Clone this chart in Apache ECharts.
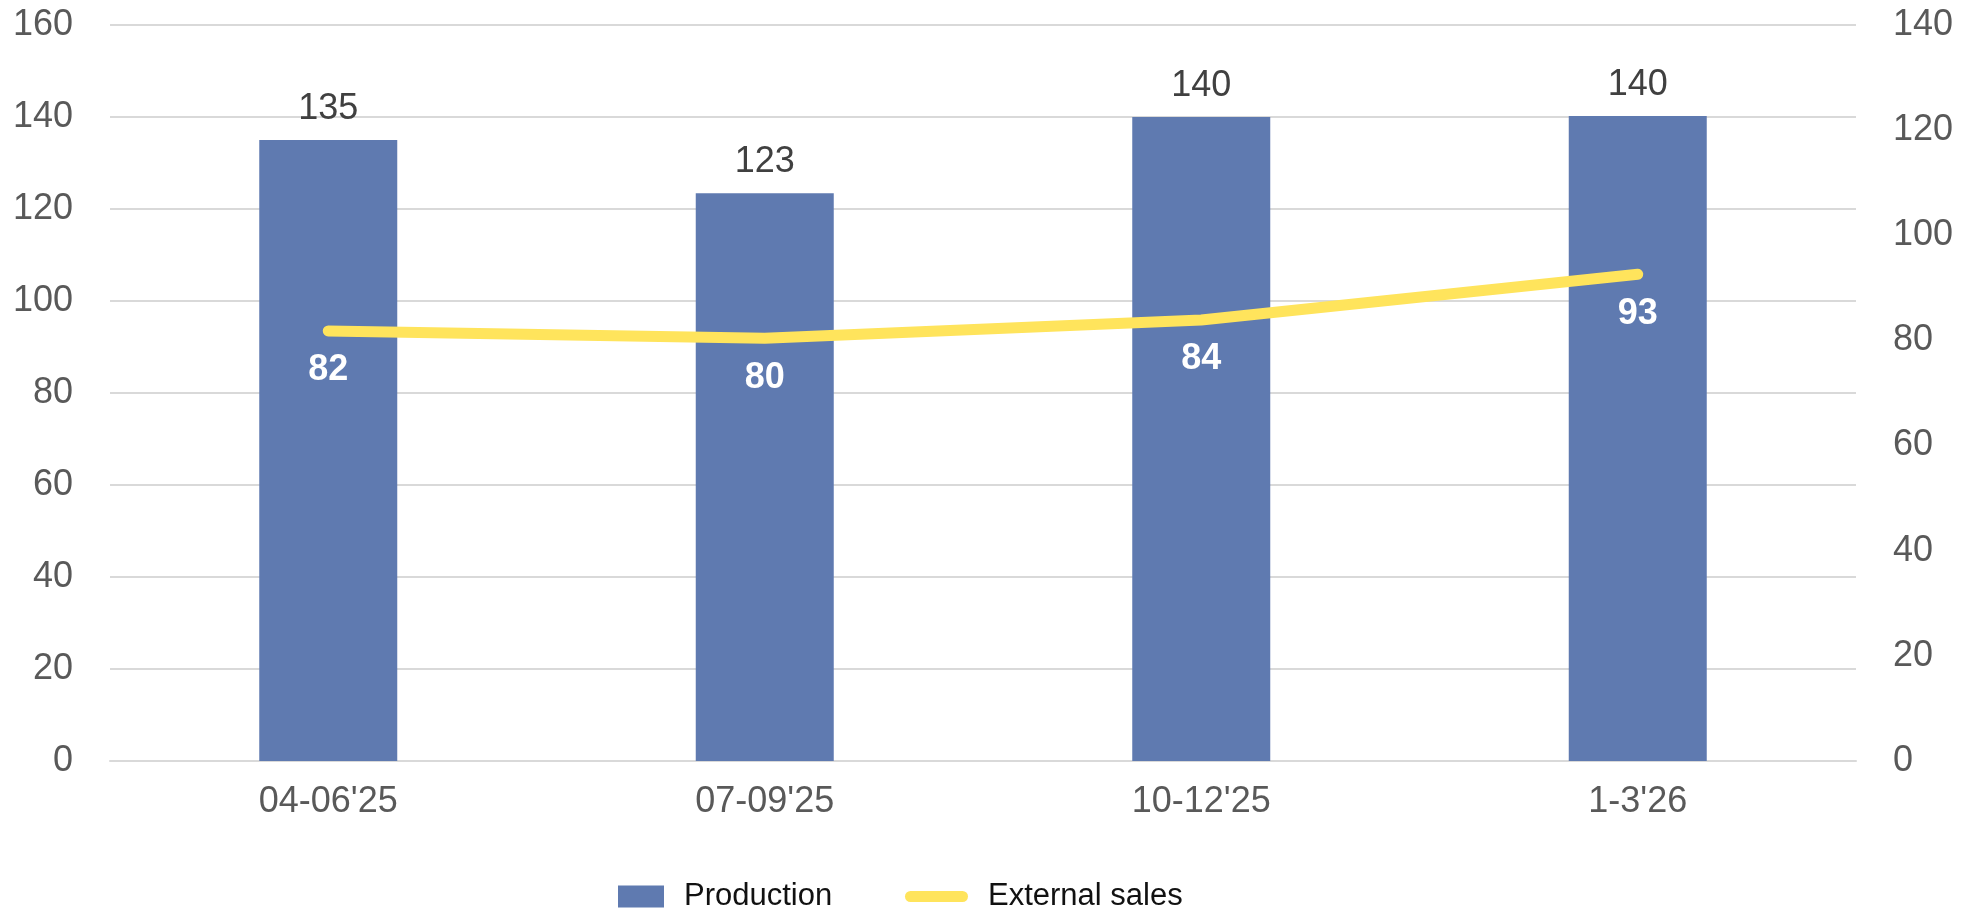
<!DOCTYPE html>
<html>
<head>
<meta charset="utf-8">
<script src="https://cdn.jsdelivr.net/npm/echarts@6/dist/echarts.min.js"></script>
<style>
html,body{margin:0;padding:0;background:#fff;}
#chart{width:1962px;height:911px;}
</style>
</head>
<body>
<div id="chart"></div>
<script>
var categories = ["04-06'25", "07-09'25", "10-12'25", "1-3'26"];
var production = [135, 123.4, 140, 140.2];
var externalSales = [81.8, 80.4, 83.9, 92.6];
var leftTicks = { min: 0, max: 160, interval: 20 };
var rightTicks = { min: 0, max: 140, interval: 20 };

var FONT = "'Liberation Sans', Arial, sans-serif";
var chart = echarts.init(document.getElementById('chart'));
chart.setOption({
  backgroundColor: '#ffffff',
  textStyle: { fontFamily: FONT },
  animation: false,
  grid: { left: 110, right: 106, top: 25, bottom: 150, outerBoundsMode: 'none' },
  legend: [
    {
      left: 613, top: 876,
      itemWidth: 46, itemHeight: 22,
      icon: 'rect',
      textStyle: { fontSize: 31, color: '#111111', fontFamily: FONT, padding: [0, 0, 0, 15], lineHeight: 31 },
      data: ['Production']
    },
    {
      left: 900, top: 876,
      itemWidth: 63, itemHeight: 11,
      textStyle: { fontSize: 31, color: '#111111', fontFamily: FONT, padding: [0, 0, 0, 15], lineHeight: 31 },
      data: [{ name: 'External sales', icon: 'path://M5.5 0H57.5A5.5 5.5 0 0 1 57.5 11H5.5A5.5 5.5 0 0 1 5.5 0Z' }]
    }
  ],
  xAxis: {
    type: 'category',
    data: categories,
    axisLine: { show: true, lineStyle: { color: '#d9d9d9', width: 2 } },
    axisTick: { show: false },
    axisLabel: { fontSize: 36, color: '#595959', margin: 23, fontFamily: FONT }
  },
  yAxis: [
    {
      type: 'value',
      min: leftTicks.min, max: leftTicks.max, interval: leftTicks.interval,
      axisLine: { show: false }, axisTick: { show: false },
      axisLabel: { fontSize: 36, color: '#595959', margin: 37, fontFamily: FONT },
      splitLine: { show: true, lineStyle: { color: '#d9d9d9', width: 2 } }
    },
    {
      type: 'value',
      min: rightTicks.min, max: rightTicks.max, interval: rightTicks.interval,
      axisLine: { show: false }, axisTick: { show: false },
      axisLabel: { fontSize: 36, color: '#595959', margin: 37, fontFamily: FONT },
      splitLine: { show: false }
    }
  ],
  series: [
    {
      name: 'Production',
      type: 'bar',
      data: production,
      barWidth: 138,
      itemStyle: { color: '#5f7ab0' },
      label: {
        show: true, position: 'top', distance: 13,
        fontSize: 36, color: '#404040', fontFamily: FONT,
        formatter: function (p) { return Math.round(p.value); }
      }
    },
    {
      name: 'External sales',
      type: 'line',
      yAxisIndex: 1,
      data: externalSales,
      symbol: 'circle', symbolSize: 1, showSymbol: true,
      itemStyle: { color: '#ffe45c' },
      lineStyle: { color: '#ffe45c', width: 11, cap: 'round', join: 'round' },
      label: {
        show: true, position: 'bottom', distance: 21,
        fontSize: 36, fontWeight: 'bold', color: '#ffffff', fontFamily: FONT,
        formatter: function (p) { return Math.round(p.value); }
      },
      z: 3
    }
  ]
});
</script>
</body>
</html>
